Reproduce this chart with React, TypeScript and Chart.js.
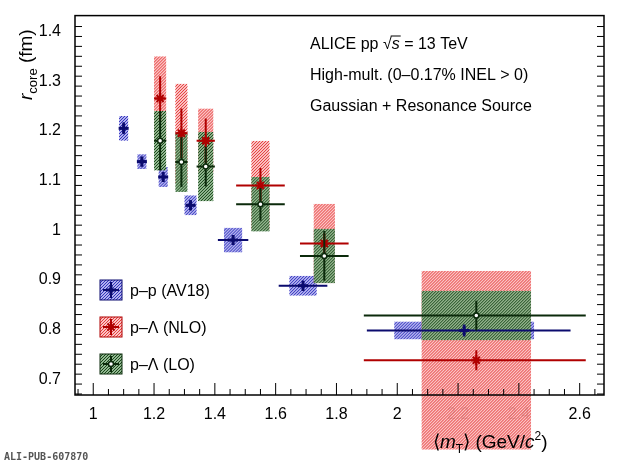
import React, { useEffect, useRef } from "react";
import { Chart, registerables } from "chart.js";
Chart.register(...registerables);

// p-p (AV18)
const ppX = [1.1, 1.16, 1.23, 1.32, 1.46, 1.69, 2.22];
const ppY = [1.205, 1.138, 1.107, 1.05, 0.98, 0.888, 0.798];
const ppXLo = [0.01, 0.01, 0.01, 0.015, 0.05, 0.08, 0.32];
const ppXHi = [0.01, 0.01, 0.01, 0.015, 0.05, 0.08, 0.35];
const ppStat = [0.012, 0.01, 0.01, 0.01, 0.01, 0.01, 0.012];
const ppSyst = [0.025, 0.015, 0.02, 0.02, 0.025, 0.02, 0.018];
const ppBoxW = [0.015, 0.015, 0.015, 0.02, 0.03, 0.045, 0.23];
// p-Λ (NLO)
const nloX = [1.22, 1.29, 1.37, 1.55, 1.76, 2.26];
const nloY = [1.265, 1.195, 1.18, 1.09, 0.973, 0.738];
const nloXLo = [0.02, 0.02, 0.03, 0.08, 0.08, 0.37];
const nloXHi = [0.02, 0.02, 0.03, 0.08, 0.08, 0.36];
const nloStat = [0.045, 0.05, 0.045, 0.035, 0.02, 0.02];
const nloSyst = [0.085, 0.1, 0.065, 0.09, 0.08, 0.18];
const nloBoxW = [0.02, 0.02, 0.025, 0.03, 0.035, 0.18];
// p-Λ (LO)
const loX = [1.22, 1.29, 1.37, 1.55, 1.76, 2.26];
const loY = [1.18, 1.137, 1.128, 1.052, 0.948, 0.828];
const loXLo = [0.02, 0.02, 0.03, 0.08, 0.08, 0.37];
const loXHi = [0.02, 0.02, 0.03, 0.08, 0.08, 0.36];
const loStat = [0.06, 0.05, 0.04, 0.033, 0.05, 0.03];
const loSyst = [0.06, 0.06, 0.07, 0.055, 0.055, 0.05];
const loBoxW = [0.02, 0.02, 0.025, 0.03, 0.035, 0.18];

const xTicks = [1, 1.2, 1.4, 1.6, 1.8, 2, 2.2, 2.4, 2.6];
const yTicks = [0.7, 0.8, 0.9, 1, 1.1, 1.2, 1.3, 1.4];

const BLUE = "#0b0b6e";
const RED = "#b00000";
const GREEN = "#0b2a0b";

function hatchRect(ctx: CanvasRenderingContext2D, l: number, t: number, w: number, h: number, bg: string, line: string) {
  ctx.save();
  ctx.beginPath(); ctx.rect(l, t, w, h); ctx.clip();
  ctx.fillStyle = bg; ctx.fillRect(l, t, w, h);
  ctx.strokeStyle = line; ctx.lineWidth = 1;
  ctx.beginPath();
  for (let k = -h; k < w + h; k += 3) { ctx.moveTo(l + k, t + h); ctx.lineTo(l + k + h, t); }
  ctx.stroke();
  ctx.restore();
}

type Ser = { x: number[]; y: number[]; xl: number[]; xh: number[]; st: number[]; sy: number[]; bw: number[]; color: string; bg: string; hl: string; marker: string };
const series: Ser[] = [
  { x: ppX, y: ppY, xl: ppXLo, xh: ppXHi, st: ppStat, sy: ppSyst, bw: ppBoxW, color: BLUE, bg: "rgba(170,170,235,0.9)", hl: "rgb(50,50,190)", marker: "cross" },
  { x: nloX, y: nloY, xl: nloXLo, xh: nloXHi, st: nloStat, sy: nloSyst, bw: nloBoxW, color: RED, bg: "rgba(250,190,190,0.9)", hl: "rgb(230,60,60)", marker: "star" },
  { x: loX, y: loY, xl: loXLo, xh: loXHi, st: loStat, sy: loSyst, bw: loBoxW, color: GREEN, bg: "rgba(140,180,140,0.95)", hl: "rgb(25,70,25)", marker: "circle" },
];

function drawMarker(ctx: CanvasRenderingContext2D, m: string, px: number, py: number, color: string) {
  ctx.strokeStyle = color; ctx.fillStyle = color;
  if (m === "cross") {
    ctx.fillRect(px - 5, py - 1.5, 10, 3); ctx.fillRect(px - 1.5, py - 5, 3, 10);
  } else if (m === "star") {
    ctx.lineWidth = 2; ctx.beginPath();
    for (let i = 0; i < 4; i++) { const a = (i * Math.PI) / 4; ctx.moveTo(px - 5 * Math.cos(a), py - 5 * Math.sin(a)); ctx.lineTo(px + 5 * Math.cos(a), py + 5 * Math.sin(a)); }
    ctx.stroke();
  } else {
    ctx.lineWidth = 1.5; ctx.fillStyle = "#fff"; ctx.beginPath(); ctx.arc(px, py, 2.5, 0, 7); ctx.fill(); ctx.stroke();
  }
}

const drawPlugin = {
  id: "drawData",
  afterDatasetsDraw(chart: any) {
    const ctx: CanvasRenderingContext2D = chart.ctx;
    const xs = chart.scales.x, ys = chart.scales.y;
    const X = (v: number) => xs.getPixelForValue(v), Y = (v: number) => ys.getPixelForValue(v);
    ctx.save();
    for (const s of series) {
      s.x.forEach((x, i) => {
        const l = X(x - s.bw[i]), r = X(x + s.bw[i]), t = Y(s.y[i] + s.sy[i]), b = Y(s.y[i] - s.sy[i]);
        hatchRect(ctx, l, t, r - l, b - t, s.bg, s.hl);
      });
    }
    for (const s of series) {
      s.x.forEach((x, i) => {
        ctx.strokeStyle = s.color; ctx.lineWidth = 2;
        ctx.beginPath();
        ctx.moveTo(X(x - s.xl[i]), Y(s.y[i])); ctx.lineTo(X(x + s.xh[i]), Y(s.y[i]));
        ctx.moveTo(X(x), Y(s.y[i] - s.st[i])); ctx.lineTo(X(x), Y(s.y[i] + s.st[i]));
        ctx.stroke();
        drawMarker(ctx, s.marker, X(x), Y(s.y[i]), s.color);
      });
    }
    const a = chart.chartArea;
    ctx.strokeStyle = "#000"; ctx.lineWidth = 1.5;
    ctx.strokeRect(a.left, a.top, a.right - a.left, a.bottom - a.top);
    ctx.lineWidth = 1;
    ctx.beginPath();
    for (let v = 0.95; v <= 2.68; v += 0.05) {
      const major = Math.abs(v * 5 - Math.round(v * 5)) < 1e-6;
      const p = X(v); const len = major ? 12 : 6;
      ctx.moveTo(p, a.bottom); ctx.lineTo(p, a.bottom - len);
    }
    for (let v = 0.67; v <= 1.43; v += 0.02) {
      const major = Math.abs(v * 10 - Math.round(v * 10)) < 1e-6;
      const p = Y(v); const len = major ? 14 : 7;
      ctx.moveTo(a.left, p); ctx.lineTo(a.left + len, p);
      ctx.moveTo(a.right, p); ctx.lineTo(a.right - len, p);
    }
    ctx.stroke();
    ctx.fillStyle = "#000";
    ctx.font = "16px 'Liberation Sans', Arial";
    ctx.fillText("ALICE pp ", 310, 49);
    const w = ctx.measureText("ALICE pp ").width;
    ctx.fillText("√", 310 + w, 49);
    const sq = ctx.measureText("√").width;
    ctx.beginPath(); ctx.moveTo(310 + w + sq - 1, 36); ctx.lineTo(310 + w + sq + 9, 36); ctx.stroke();
    ctx.font = "italic 16px 'Liberation Sans', Arial";
    ctx.fillText("s", 310 + w + sq, 49);
    ctx.font = "16px 'Liberation Sans', Arial";
    ctx.fillText(" = 13 TeV", 310 + w + sq + 8, 49);
    ctx.fillText("High-mult. (0–0.17% INEL > 0)", 310, 80);
    ctx.fillText("Gaussian + Resonance Source", 310, 111);
    const leg = [["p–p (AV18)", 0], ["p–Λ (NLO)", 1], ["p–Λ (LO)", 2]] as const;
    leg.forEach(([t, k], i) => {
      const s = series[k]; const cy = 290 + i * 37;
      hatchRect(ctx, 100, cy - 10, 22, 20, s.bg, s.hl);
      ctx.strokeStyle = s.color; ctx.lineWidth = 1; ctx.strokeRect(100, cy - 10, 22, 20);
      ctx.lineWidth = 2; ctx.beginPath(); ctx.moveTo(103, cy); ctx.lineTo(119, cy); ctx.moveTo(111, cy - 8); ctx.lineTo(111, cy + 8); ctx.stroke();
      drawMarker(ctx, s.marker, 111, cy, s.color);
      ctx.fillStyle = "#000"; ctx.font = "16px 'Liberation Sans', Arial";
      ctx.fillText(t, 130, cy + 6);
    });
    ctx.save(); ctx.translate(32, 100); ctx.rotate(-Math.PI / 2);
    ctx.font = "italic 19px 'Liberation Sans', Arial"; ctx.fillText("r", 0, 0);
    let o = ctx.measureText("r").width;
    ctx.font = "13px 'Liberation Sans', Arial"; ctx.fillText("core", o, 5);
    o += ctx.measureText("core").width;
    ctx.font = "19px 'Liberation Sans', Arial"; ctx.fillText(" (fm)", o, 0);
    ctx.restore();
    let xx = 433; const yy = 448;
    ctx.font = "19px 'Liberation Sans', Arial"; ctx.fillText("⟨", xx, yy); xx += ctx.measureText("⟨").width;
    ctx.font = "italic 19px 'Liberation Sans', Arial"; ctx.fillText("m", xx, yy); xx += ctx.measureText("m").width;
    ctx.font = "12px 'Liberation Sans', Arial"; ctx.fillText("T", xx, yy + 5); xx += ctx.measureText("T").width;
    ctx.font = "19px 'Liberation Sans', Arial"; ctx.fillText("⟩ (GeV/", xx, yy); xx += ctx.measureText("⟩ (GeV/").width;
    ctx.font = "italic 19px 'Liberation Sans', Arial"; ctx.fillText("c", xx, yy); xx += ctx.measureText("c").width;
    ctx.font = "12px 'Liberation Sans', Arial"; ctx.fillText("2", xx, yy - 8); xx += ctx.measureText("2").width;
    ctx.font = "19px 'Liberation Sans', Arial"; ctx.fillText(")", xx, yy);
    ctx.font = "bold 10px 'DejaVu Sans Mono', monospace"; ctx.fillStyle = "#555";
    ctx.fillText("ALI-PUB-607870", 4, 460);
    ctx.restore();
  },
};

export default function App() {
  const ref = useRef<HTMLCanvasElement>(null);
  useEffect(() => {
    document.body.style.margin = "0";
    const chart = new Chart(ref.current!, {
      type: "scatter",
      data: { datasets: [{ data: ppX.map((x, i) => ({ x, y: ppY[i] })), pointRadius: 0 }] },
      options: {
        animation: false, responsive: false,
        layout: { padding: { top: 13, right: 16, left: 0, bottom: 0 } },
        plugins: { legend: { display: false }, tooltip: { enabled: false } },
        scales: {
          x: {
            type: "linear", min: 0.94, max: 2.68,
            afterBuildTicks: (s: any) => { s.ticks = xTicks.map((v) => ({ value: v })); },
            afterFit: (s: any) => { s.height = 71; },
            grid: { display: false }, border: { display: false },
            ticks: { color: "#000", font: { size: 16, family: "'Liberation Sans', Arial" }, padding: 2, callback: (v: any) => String(v) },
          },
          y: {
            type: "linear", min: 0.668, max: 1.432,
            afterBuildTicks: (s: any) => { s.ticks = yTicks.map((v) => ({ value: v })); },
            afterFit: (s: any) => { s.width = 75; },
            grid: { display: false }, border: { display: false },
            ticks: { color: "#000", font: { size: 16, family: "'Liberation Sans', Arial" }, padding: 6, callback: (v: any) => String(v) },
          },
        },
      },
      plugins: [drawPlugin],
    });
    return () => chart.destroy();
  }, []);
  return <canvas ref={ref} width={620} height={466} style={{ display: "block" }} />;
}
